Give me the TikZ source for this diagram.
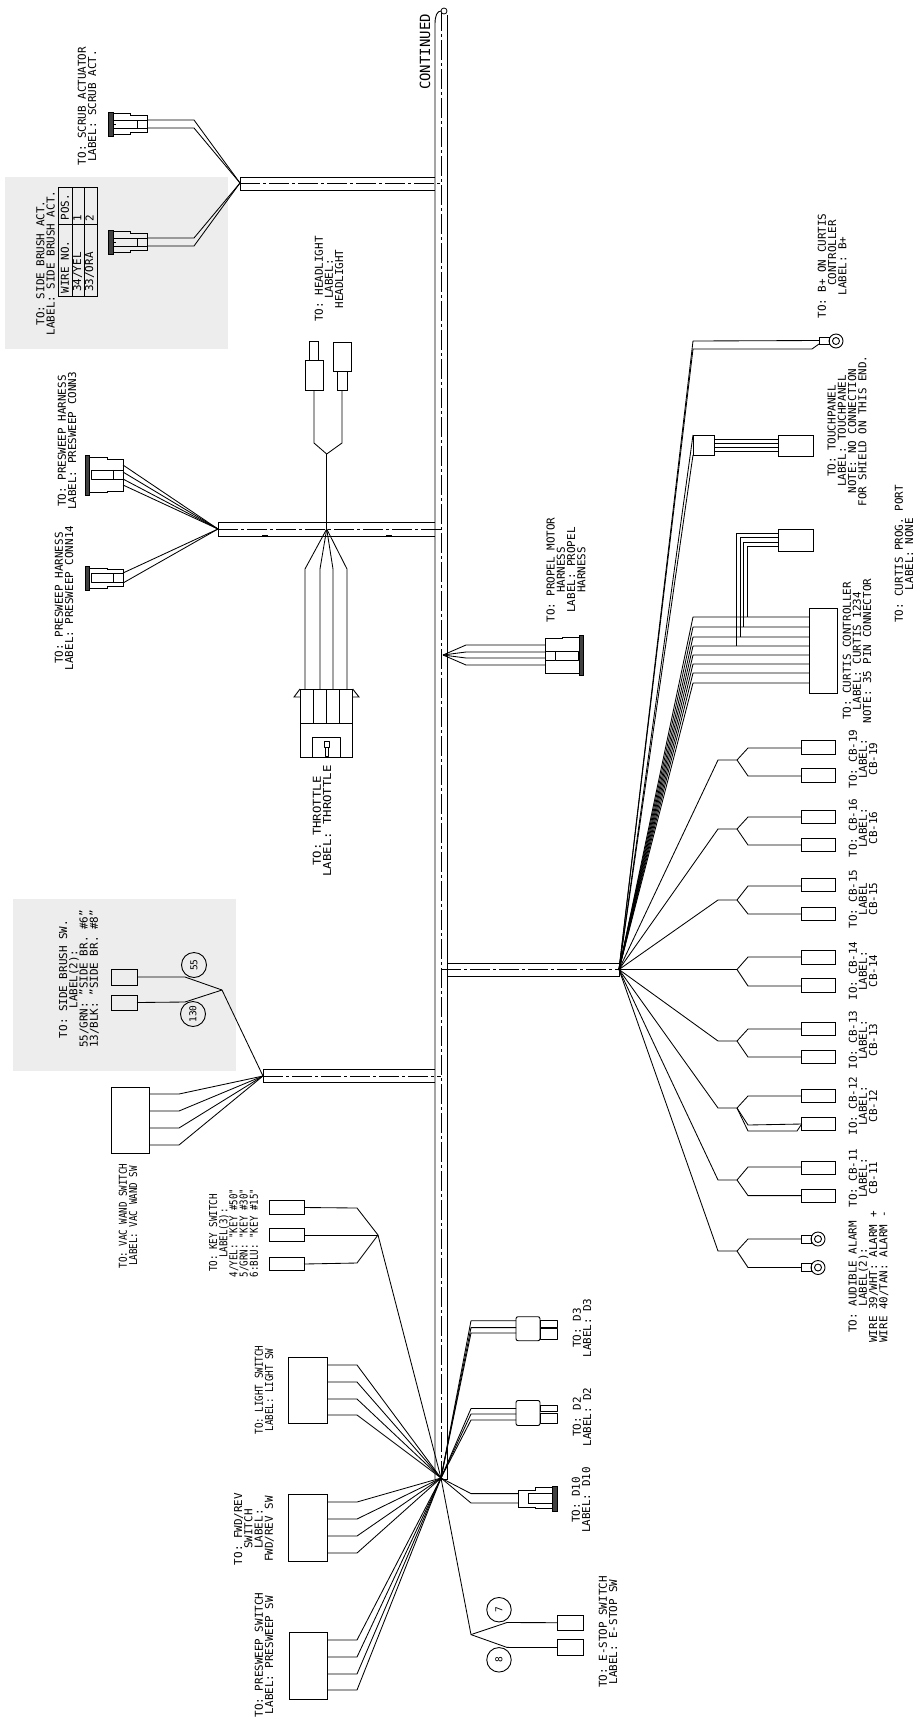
\documentclass[tikz,border=0pt]{standalone}
\usepackage{fontspec}
\setmainfont{DejaVu Sans Mono}
\newfontfamily\narrowmono[FakeStretch=0.84]{DejaVu Sans Mono}
\newfontfamily\widemono[FakeStretch=1.13]{DejaVu Sans Mono}
\usetikzlibrary{calc}
\tikzset{
  wire/.style={line width=.85pt,line join=round},
  outl/.style={line width=.9pt,black},
  boxn/.style={draw,line width=.9pt,inner sep=0pt,outer sep=0pt},
  lab/.style={rotate=90,align=center,inner sep=0pt,font=\fontsize{10.9}{10.2}\selectfont},
  labn/.style={rotate=90,align=center,inner sep=0pt,font=\narrowmono\fontsize{10.9}{10.2}\selectfont},
  labw/.style={rotate=90,align=center,inner sep=0pt,font=\widemono\fontsize{10.9}{10.2}\selectfont},
  cline/.style={line width=.65pt,dash pattern=on 20pt off 3pt on 3pt off 3pt},
  greyback/.style={fill=black!7,draw=none},
  ringo/.style={circle,draw,line width=.9pt,inner sep=0pt,minimum size=14pt},
  ringi/.style={circle,draw,line width=.9pt,inner sep=0pt,minimum size=7pt},
  bubble/.style={circle,draw,line width=.9pt,inner sep=0pt,minimum size=25pt,font=\fontsize{9.5}{9.5}\selectfont}
}
\newcommand{\plugright}[2]{%
 \begin{scope}[shift={(#1,#2)}]
  \fill[black!75] (0,-12) rectangle (5,12);
  \draw[outl] (0,-12) rectangle (5,12);
  \draw[outl] (5,-10.5) -- (22,-10.5) -- (22,-8.5) -- (39,-8.5) -- (39,8.5) -- (22,8.5) -- (22,10.5) -- (5,10.5);
  \draw[wire] (5,-4) -- (39,-4) (5,4) -- (39,4) (29,-4) -- (29,4) (5,0) -- (8,0);
 \end{scope}}
\newcommand{\pluglarge}[2]{%
 \begin{scope}[shift={(#1,#2)}]
  \fill[black!75] (0,-20) rectangle (4,20);
  \draw[outl] (0,-20) rectangle (4,20);
  \draw[outl] (4,-17.5) -- (22,-17.5) -- (22,-16) -- (38,-16) -- (38,16) -- (22,16) -- (22,17.5) -- (4,17.5);
  \draw[wire] (6,-4.5) rectangle (28,4.5) (28,-4.5) -- (38,-4.5) (28,4.5) -- (38,4.5);
 \end{scope}}
\newcommand{\plugsmall}[2]{%
 \begin{scope}[shift={(#1,#2)}]
  \fill[black!75] (0,-12) rectangle (4,12);
  \draw[outl] (0,-12) rectangle (4,12);
  \draw[outl] (4,-10) -- (22,-10) -- (22,-8.5) -- (38,-8.5) -- (38,8.5) -- (22,8.5) -- (22,10) -- (4,10);
  \draw[wire] (6,-4.5) rectangle (28,4.5) (28,-4.5) -- (38,-4.5) (28,4.5) -- (38,4.5);
 \end{scope}}
\begin{document}
\begin{tikzpicture}[x=1pt,y=-1pt]
\useasboundingbox (0,0) rectangle (916,1722);
\fill[white] (0,0) rectangle (916,1722);
\fill[greyback] (5,177) rectangle (228,349);
\fill[greyback] (13,899) rectangle (236,1071);

% hubs
\coordinate (hubA) at (240,183);
\coordinate (hubB) at (218,529);
\coordinate (hubT) at (326.7,529);
\coordinate (hubP) at (443,655);
\coordinate (hubC) at (619,969.5);
\coordinate (hubD) at (263,1076);
\coordinate (hubE) at (441,1478);
\coordinate (trunkTop) at (441,11);

% trunk
\draw[outl] (435,1479) -- (435,24) .. controls (435,16) and (437,11) .. (441,11);
\draw[outl] (447.5,15) -- (447.5,1479) -- (441,1479);
\draw[cline] (trunkTop) -- (hubE);
\node[circle,draw,line width=.8pt,fill=white,minimum size=6pt,inner sep=0pt] (trunkEnd) at (444,11) {};

% branches
\draw[outl] (435,177) -- (240,177) -- (240,190) -- (435,190);
\draw[cline] (hubA) -- (441,183);
\draw[outl] (435,522) -- (218,522) -- (218,536) -- (435,536);
\draw[cline] (hubB) -- (441,529);
\draw[wire,line width=.5pt] (262,535) -- (268,535) (386,535) -- (392,535);
\draw[outl] (435,1069) -- (263,1069) -- (263,1082) -- (435,1082);
\draw[cline] (hubD) -- (441,1076);
\draw[outl] (447.5,963) -- (619,963) -- (619,976) -- (447.5,976);
\draw[cline] (441,969.5) -- (hubC);

% continued
\node[lab,font=\fontsize{14}{14}\selectfont] (cont) at (425,52) {CONTINUED};

% scrub + side brush plugs
\plugright{108}{124}
\plugright{108}{242}
\draw[wire] (147,120) -- (194,120) -- (hubA);
\draw[wire] (147,128) -- (194,128) -- (hubA);
\draw[wire] (147,238) -- (194,238) -- (hubA);
\draw[wire] (147,246) -- (194,246) -- (hubA);
\node[lab] (scrubT) at (87,106) {TO: SCRUB ACTUATOR\\LABEL: SCRUB ACT.};
\node[lab] (sideT) at (45.5,263) {TO: SIDE BRUSH ACT.\\LABEL: SIDE BRUSH ACT.};

% table
\draw[outl] (58,187) rectangle (97,296);
\draw[outl] (58,224) -- (97,224) (72,187) -- (72,296) (84,187) -- (84,296);
\node[lab] (tw) at (65,267) {WIRE NO.};
\node[lab] (tp) at (65,207) {POS.};
\node[lab] (t1) at (77.5,272) {34/YEL};
\node[lab] (t2) at (89.5,272) {33/ORA};
\node[lab] (t3) at (77.5,218) {1};
\node[lab] (t4) at (89.5,218) {2};

% headlight
\node[boxn,minimum width=9pt,minimum height=18.5pt] (hl1a) at (314,351) {};
\node[boxn,minimum width=18pt,minimum height=30pt] (hl1b) at (314,375) {};
\node[boxn,minimum width=18pt,minimum height=29pt] (hl2a) at (342,356.5) {};
\node[boxn,minimum width=10pt,minimum height=19pt] (hl2b) at (342,380.5) {};
\coordinate (hlJ) at (326.7,454);
\draw[wire] (hl1b.south) -- (314,443) -- (hlJ);
\draw[wire] (hl2b.south) -- (342,443) -- (hlJ);
\draw[wire] (hlJ) -- (hubT);
\node[lab] (hlT) at (329,279) {TO: HEADLIGHT\\LABEL:\\HEADLIGHT};

% presweep plugs
\pluglarge{85}{475}
\plugsmall{85}{578}
\foreach \yy in {465,472,479,485} \draw[wire] (123,\yy) -- (hubB);
\foreach \yy in {573,583} \draw[wire] (123,\yy) -- (hubB);
\node[lab] (ps1) at (67,441) {TO:  PRESWEEP HARNESS\\LABEL: PRESWEEP CONN3};
\node[lab] (ps2) at (64,598) {TO:  PRESWEEP  HARNESS\\LABEL:  PRESWEEP  CONN14};

% throttle
\draw[outl] (300,689) rectangle (352.7,757);
\draw[outl] (300,723) -- (352.7,723);
\draw[outl] (300,689) -- (294,697) -- (300,697) (352.7,689) -- (359,697) -- (352.7,697);
\draw[wire] (313,689) -- (313,723) (326.7,689) -- (326.7,723) (339,689) -- (339,723);
\draw[wire] (312.7,757) -- (312.7,737.7) -- (340,737.7) -- (340,757);
\draw[wire,line width=.8pt] (324,741) rectangle (329.5,747) (325.5,747) rectangle (328,756);
\foreach \xx in {305,320,333,347} \draw[wire] (\xx,689) -- (\xx,569) -- (hubT);
\node[labw] (thT) at (322,821) {TO: THROTTLE\\LABEL: THROTTLE};

% propel
\foreach \yy in {645,652,658,665} \draw[wire] (545,\yy) -- (466,\yy) -- (hubP);
\draw[outl] (579,637) -- (562,637) -- (562,638) -- (545,638) -- (545,673) -- (562,673) -- (579,673);
\fill[black!75] (579,635) rectangle (583,675);
\draw[outl] (579,635) rectangle (583,675);
\draw[wire] (555,651) rectangle (578,660) (545,651) -- (555,651) (545,660) -- (555,660);
\node[lab] (prT) at (566,570) {TO: PROPEL MOTOR\\HARNESS\\LABEL: PROPEL\\HARNESS};

% B+
\node[boxn,minimum width=10pt,minimum height=7pt] (bpR) at (824,340.5) {};
\node[ringo] (bpO) at (836,341) {};
\node[ringi] (bpI) at (836,341) {};
\draw[wire] (hubC) -- (693,341) -- (bpR.west);
\draw[wire] (hubC) -- (693,349) -- (812,349) -- (bpR.south west);
\node[lab] (bpT) at (832,266) {TO: B+ ON CURTIS\\\phantom{XXXX}CONTROLLER\\LABEL: B+};

% touchpanel
\node[boxn,minimum width=21pt,minimum height=20pt] (tpA) at (703.5,445) {};
\node[boxn,minimum width=35pt,minimum height=21pt] (tpB) at (795.5,445.5) {};
\draw[wire] (hubC) -- (tpA.north west);
\draw[wire] (hubC) -- (tpA.south west);
\foreach \yy in {439,443,447,451} \draw[wire] (tpA.east |- 0,\yy) -- (tpB.west |- 0,\yy);
\node[lab] (tpT) at (847,431) {TO: TOUCHPANEL\\LABEL: TOUCHPANEL\\NOTE: NO CONNECTION\\FOR SHIELD ON THIS END.};

% curtis
\node[boxn,minimum width=28pt,minimum height=85pt] (cuB) at (823,650.5) {};
\node[boxn,minimum width=35pt,minimum height=22pt] (cuP) at (795.5,540) {};
\foreach \yy in {617,627,637,646,655,664,673,683} \draw[wire] (hubC) -- (693,\yy) -- (cuB.west |- 0,\yy);
\draw[wire] (cuP.west |- 0,533) -- (736,533) -- (736,646);
\draw[wire] (cuP.west |- 0,537) -- (740,537) -- (740,637);
\draw[wire] (cuP.west |- 0,542) -- (743,542) -- (743,627);
\draw[wire] (cuP.west |- 0,546) -- (747,546) -- (747,617);
\node[lab] (cuT) at (857,651) {TO: CURTIS CONTROLLER\\LABEL: CURTIS 1234\\NOTE: 35 PIN CONNECTOR};
\node[lab] (cpT) at (904,554) {TO: CURTIS PROG. PORT\\LABEL: NONE};

% CB groups
\newcommand{\cbgroup}[6]{%
 \node[boxn,minimum width=34pt,minimum height=13.5pt] (#1a) at (818.7,#5) {};
 \node[boxn,minimum width=34pt,minimum height=13.5pt] (#1b) at (818.7,#6) {};
 \draw[wire] (hubC) -- (718,#2) -- (737,#2) -- (748,#3) -- (#1a.west |- 0,#3);
 \draw[wire] (737,#2) -- (748,#4) -- (#1b.west |- 0,#4);}
\cbgroup{cbN}{760}{748}{776}{747.5}{775.5}
\cbgroup{cbS}{829}{817}{845}{817}{845}
\cbgroup{cbF}{900}{886}{914}{885}{914}
\cbgroup{cbD}{969.5}{957}{986}{957.5}{985.5}
\cbgroup{cbH}{1041}{1029}{1057}{1029}{1057}
\node[boxn,minimum width=34pt,minimum height=13.5pt] (cbTa) at (818.7,1096) {};
\node[boxn,minimum width=34pt,minimum height=13.5pt] (cbTb) at (818.7,1124) {};
\draw[wire] (hubC) -- (718,1108) -- (737,1108) -- (748,1096) -- (cbTa.west);
\draw[wire] (737,1108) -- (748,1125) -- (cbTb.west);
\draw[wire] (737,1108) -- (748,1131) -- (797,1131) -- (cbTb.west);
\cbgroup{cbE}{1180}{1167}{1195.6}{1168}{1196}
\node[boxn,minimum width=10pt,minimum height=8pt] (alA) at (806,1239) {};
\node[boxn,minimum width=10pt,minimum height=8pt] (alB) at (806,1267.5) {};
\node[ringo] (alAo) at (818,1239) {};
\node[ringi] (alAi) at (818,1239) {};
\node[ringo] (alBo) at (818,1267.5) {};
\node[ringi] (alBi) at (818,1267.5) {};
\draw[wire] (hubC) -- (718,1251) -- (737,1251) -- (748,1239) -- (alA.west);
\draw[wire] (737,1251) -- (748,1267.5) -- (alB.west);

\node[lab] (l19) at (863,759) {TO: CB-19\\LABEL:\\CB-19};
\node[lab] (l16) at (863,828) {TO: CB-16\\LABEL:\\CB-16};
\node[lab] (l15) at (863,899) {TO: CB-15\\LABEL\\CB-15};
\node[lab] (l14) at (863,971) {IO: CB-14\\LABEL:\\CB-14};
\node[lab] (l13) at (863,1040) {IO: CB-13\\LABEL:\\CB-13};
\node[lab] (l12) at (863,1106) {IO: CB-12\\LABEL:\\CB-12};
\node[lab] (l11) at (863,1178) {TO: CB-11\\LABEL:\\CB-11};
\node[lab] (lal) at (868.5,1277) {TO: AUDIBLE ALARM\\LABEL(2):\\WIRE 39/WHT: ALARM +\\WIRE 40/TAN: ALARM -};

% side brush switch
\node[boxn,minimum width=26pt,minimum height=16pt] (sbA) at (124,977) {};
\node[boxn,minimum width=26pt,minimum height=15pt] (sbB) at (124,1002.5) {};
\coordinate (sbJ) at (222,990);
\draw[wire] (sbA.east) -- (185,977) -- (sbJ) -- (hubD);
\draw[wire] (sbB.east) -- (185,1002) -- (sbJ);
\node[bubble] (n55) at (194,965) {\rotatebox{90}{55}};
\node[bubble] (n130) at (193,1014) {\rotatebox{90}{130}};
\node[lab] (sbT) at (79,979) {TO: SIDE BRUSH SW.\\LABEL(2):\\55/GRN: "SIDE BR. \#6"\\13/BLK: "SIDE BR. \#8"};

% vac wand
\node[boxn,minimum width=38pt,minimum height=66pt] (vw) at (130,1120) {};
\foreach \yy in {1094,1111,1128,1145} \draw[wire] (vw.east |- 0,\yy) -- (179,\yy) -- (hubD);
\node[labn] (vwT) at (128,1216) {TO: VAC WAND SWITCH\\LABEL: VAC WAND SW};

% key switch
\coordinate (keyJ) at (378,1235);
\node[boxn,minimum width=35pt,minimum height=13.5pt] (k1) at (286.5,1207.5) {};
\node[boxn,minimum width=35pt,minimum height=13.5pt] (k2) at (286.5,1235) {};
\node[boxn,minimum width=35pt,minimum height=13.5pt] (k3) at (286.5,1264) {};
\draw[wire] (k1.east) -- (357,1208) -- (keyJ);
\draw[wire] (k2.east) -- (keyJ);
\draw[wire] (k3.east) -- (357,1263) -- (keyJ);
\draw[wire] (keyJ) -- (hubE);
\node[labn] (kT) at (233.5,1233) {TO: KEY SWITCH\\LABEL(3):\\4/YEL: "KEY \#50"\\5/GRN: "KEY \#30"\\6:BLU: "KEY \#15"};

% switches
\node[boxn,minimum width=39pt,minimum height=66pt] (ls) at (307.5,1390) {};
\foreach \yy in {1365,1382,1399,1415} \draw[wire] (ls.east |- 0,\yy) -- (357,\yy) -- (hubE);
\node[labn] (lsT) at (264,1390) {TO: LIGHT SWITCH\\LABEL: LIGHT SW};
\node[boxn,minimum width=39pt,minimum height=67pt] (fr) at (307.5,1527.5) {};
\foreach \yy in {1502,1519,1536,1553} \draw[wire] (fr.east |- 0,\yy) -- (357,\yy) -- (hubE);
\node[lab] (frT) at (254,1529) {TO: FWD/REV\\SWITCH\\LABEL:\\FWD/REV SW};
\node[boxn,minimum width=38pt,minimum height=67pt] (pw) at (308,1665.5) {};
\foreach \yy in {1640,1657,1674,1690} \draw[wire] (pw.east |- 0,\yy) -- (357,\yy) -- (hubE);
\node[lab] (pwT) at (264,1655) {TO: PRESWEEP SWITCH\\LABEL: PRESWEEP SW};

% D3, D2
\node[boxn,rounded corners=2pt,minimum width=24pt,minimum height=24pt] (d3) at (528,1328.7) {};
\draw[wire] (d3.east |- 0,1320.7) rectangle (557,1327);
\draw[wire] (d3.east |- 0,1328.7) rectangle (557,1339);
\foreach \yy in {1320.7,1327.6,1333} \draw[wire] (hubE) -- (471,\yy) -- (d3.west |- 0,\yy);
\node[lab] (d3T) at (582,1328) {TO: D3\\LABEL: D3};
\node[boxn,rounded corners=2pt,minimum width=24pt,minimum height=25pt] (d2) at (528,1413) {};
\draw[wire] (d2.east |- 0,1405.4) rectangle (557,1411);
\draw[wire] (d2.east |- 0,1413.3) rectangle (557,1423.7);
\foreach \yy in {1408.5,1414,1420} \draw[wire] (hubE) -- (471,\yy) -- (d2.west |- 0,\yy);
\node[lab] (d2T) at (582,1417) {TO: D2\\LABEL: D2};

% D10
\draw[outl] (552,1487.7) -- (535,1487.7) -- (535,1490) -- (518,1490) -- (518,1507.4) -- (535,1507.4) -- (535,1508.4) -- (552,1508.4);
\fill[black!75] (552,1486) rectangle (557,1511);
\draw[outl] (552,1486) rectangle (557,1511);
\draw[wire] (528,1493.6) -- (528,1503) (528,1493.6) -- (552,1493.6) (528,1503) -- (552,1503);
\foreach \yy in {1493.6,1503} \draw[wire] (hubE) -- (471,\yy) -- (518,\yy);
\node[lab] (d10T) at (581,1500) {TO: D10\\LABEL: D10};

% e-stop
\node[boxn,minimum width=26pt,minimum height=15.5pt] (es1) at (570,1622.7) {};
\node[boxn,minimum width=26pt,minimum height=15.5pt] (es2) at (570,1647.5) {};
\coordinate (esJ) at (471,1634.6);
\draw[wire] (hubE) -- (esJ) -- (507,1622.5) -- (es1.west);
\draw[wire] (esJ) -- (507,1647.4) -- (es2.west);
\node[bubble,minimum size=24.5pt] (n7) at (499,1609.7) {\rotatebox{90}{7}};
\node[bubble,minimum size=24.5pt] (n8) at (499,1659.8) {\rotatebox{90}{8}};
\node[lab] (esT) at (608,1632) {TO: E-STOP SWITCH\\LABEL: E-STOP SW};
\end{tikzpicture}
\end{document}
